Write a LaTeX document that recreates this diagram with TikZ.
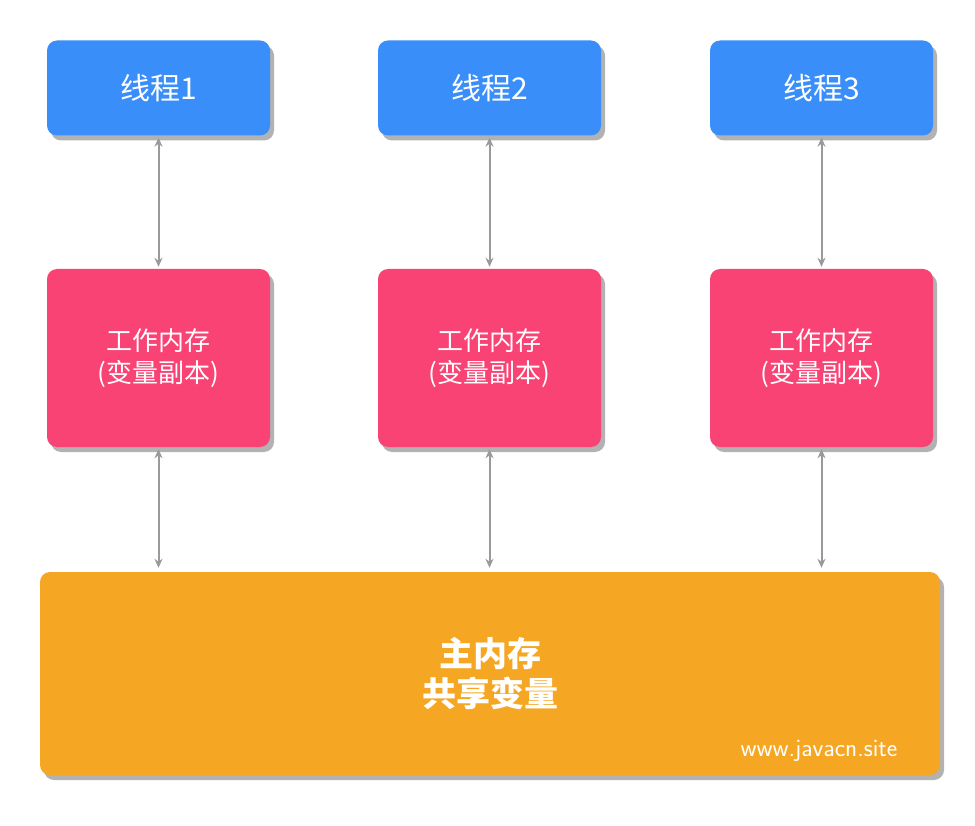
\documentclass[tikz,border=0pt]{standalone}
\usepackage{fontspec}
\setmainfont{Noto Sans CJK SC}
\usetikzlibrary{shadows,arrows.meta}
\definecolor{threadblue}{HTML}{3A8EFA}
\definecolor{workpink}{HTML}{F94374}
\definecolor{mainorange}{HTML}{F5A623}
\definecolor{arrowgray}{HTML}{9A9A9A}

\begin{document}
\begin{tikzpicture}[x=1pt, y=-1pt,
    box/.style = {rounded corners = 10pt, text = white, align = center,
        drop shadow = {shadow xshift = 4pt, shadow yshift = -5pt, fill = black!30, opacity = 1}},
    thread/.style = {box, fill = threadblue, minimum width = 223pt, minimum height = 95pt, font = \fontsize{30}{34}\selectfont},
    work/.style = {box, fill = workpink, minimum width = 223pt, minimum height = 178pt, font = \fontsize{26}{32}\selectfont},
    link/.style = {draw = arrowgray, line width = 2pt, {Stealth[length=9pt,width=8pt]}-{Stealth[length=9pt,width=8pt]}}]
        \useasboundingbox (0, 0) rectangle (975, 826);

        % Threads
        \node [thread] (t1) at (158.5, 88) {线程1};
        \node [thread] (t2) at (489.5, 88) {线程2};
        \node [thread] (t3) at (821.5, 88) {线程3};

        % Working memory
        \node [work] (w1) at (158.5, 358) {工作内存\\(变量副本)};
        \node [work] (w2) at (489.5, 358) {工作内存\\(变量副本)};
        \node [work] (w3) at (821.5, 358) {工作内存\\(变量副本)};

        % Main memory
        \node [box, fill = mainorange, minimum width = 900pt, minimum height = 203pt,
            font = \fontsize{34}{40}\selectfont\bfseries] (m) at (490, 673.5) {主内存\\共享变量};
        \node [text = white, font = \fontsize{25}{30}\selectfont\sffamily] (site) at (819, 751) {www.javacn.site};

        % Lines
        \foreach \i in {1, 2, 3} {
            \draw [link, shorten <= 2pt, shorten >= 2pt] (t\i) -- (w\i);
            \draw [link, shorten <= 2pt, shorten >= 4pt] (w\i) -- (w\i |- m.north);
        }
    \end{tikzpicture}
\end{document}
